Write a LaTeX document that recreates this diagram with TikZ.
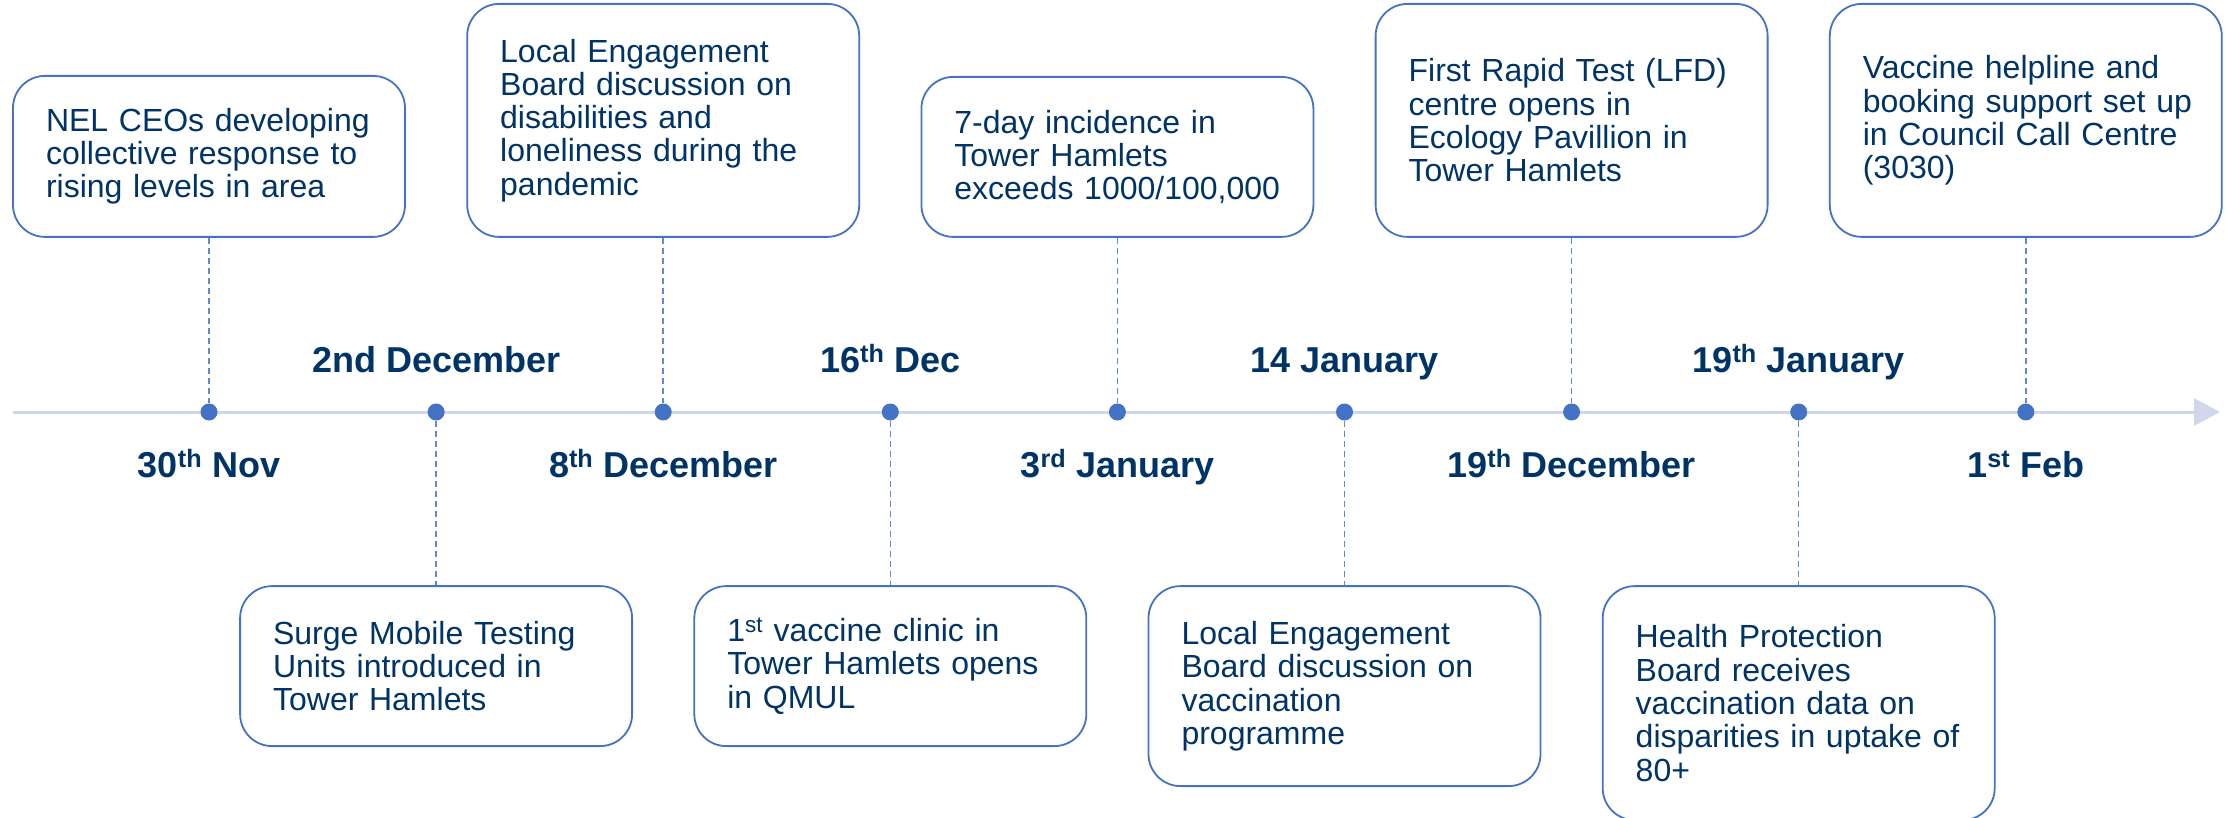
\documentclass[tikz,border=0pt]{standalone}
\usepackage{fontspec}
\setmainfont{Liberation Sans}
\usetikzlibrary{arrows.meta,positioning,calc}
\definecolor{navy}{RGB}{0,51,102}
\definecolor{accent}{RGB}{68,114,196}
\definecolor{leaderblue}{RGB}{96,137,210}
\definecolor{axisgrey}{RGB}{208,215,236}

\begin{document}
\begin{tikzpicture}[>=latex, x=1pt, y=-1pt,
		event/.style={draw=accent, line width=1.8pt, rounded corners=32pt, fill=white,
			text=navy, align=left, text width=326pt, inner xsep=33pt, inner ysep=0pt,
			font=\fontsize{32}{33.3}\selectfont},
		dot/.style={circle, fill=accent, inner sep=0pt, minimum size=17pt},
		datelbl/.style={text=navy, anchor=base, font=\bfseries\fontsize{36}{40}\selectfont},
		leader/.style={draw=leaderblue, line width=1.5pt, dash pattern=on 6pt off 4pt}]
		\useasboundingbox (0,0) rectangle (2226,818);
		\draw[axisgrey, line width=3pt, -{Triangle[length=26pt,width=27pt]}] (13,412) -- (2220,412);
		\foreach \i in {0,...,8}
			\node[dot] (d\i) at ({209+227.1*\i},412) {};
		% dates
		\node[datelbl] (t0) at ([yshift=-65pt]d0) {30\textsuperscript{th} Nov};
		\node[datelbl] (t1) at ([yshift=40pt]d1) {2nd December};
		\node[datelbl] (t2) at ([yshift=-65pt]d2) {8\textsuperscript{th} December};
		\node[datelbl] (t3) at ([yshift=40pt]d3) {16\textsuperscript{th} Dec};
		\node[datelbl] (t4) at ([yshift=-65pt]d4) {3\textsuperscript{rd} January};
		\node[datelbl] (t5) at ([yshift=40pt]d5) {14 January};
		\node[datelbl] (t6) at ([yshift=-65pt]d6) {19\textsuperscript{th} December};
		\node[datelbl] (t7) at ([yshift=40pt]d7) {19\textsuperscript{th} January};
		\node[datelbl] (t8) at ([yshift=-65pt]d8) {1\textsuperscript{st} Feb};
		% events above
		\node[event, minimum height=161pt, above=165.5pt of d0] (e0)
			{NEL CEOs developing\\collective response to\\rising levels in area};
		\node[event, minimum height=233pt, above=165.5pt of d2] (e2)
			{Local Engagement\\Board discussion on\\disabilities and\\loneliness during the\\pandemic};
		\node[event, minimum height=160pt, above=165.5pt of d4] (e4)
			{7-day incidence in\\Tower Hamlets\\exceeds 1000/100,000};
		\node[event, minimum height=233pt, above=165.5pt of d6] (e6)
			{First Rapid Test (LFD)\\centre opens in\\Ecology Pavillion in\\Tower Hamlets};
		\node[event, minimum height=233pt, above=165.5pt of d8] (e8)
			{Vaccine helpline and\\\mbox{booking support set up}\\in Council Call Centre\\(3030)};
		% events below
		\node[event, minimum height=160pt, below=164.5pt of d1] (e1)
			{Surge Mobile Testing\\Units introduced in\\Tower Hamlets};
		\node[event, minimum height=160pt, below=164.5pt of d3] (e3)
			{1\textsuperscript{st} vaccine clinic in\\Tower Hamlets opens\\in QMUL};
		\node[event, minimum height=200pt, below=164.5pt of d5] (e5)
			{Local Engagement\\Board discussion on\\vaccination\\programme};
		\node[event, minimum height=234pt, below=164.5pt of d7] (e7)
			{Health Protection\\Board receives\\vaccination data on\\disparities in uptake of\\80+};
		\draw[leader] (e0) -- (d0);
		\draw[leader] (e2) -- (d2);
		\draw[leader] (e4) -- (d4);
		\draw[leader] (e6) -- (d6);
		\draw[leader] (e8) -- (d8);
		\draw[leader] (d1) -- (e1);
		\draw[leader] (d3) -- (e3);
		\draw[leader] (d5) -- (e5);
		\draw[leader] (d7) -- (e7);
	\end{tikzpicture}
\end{document}
